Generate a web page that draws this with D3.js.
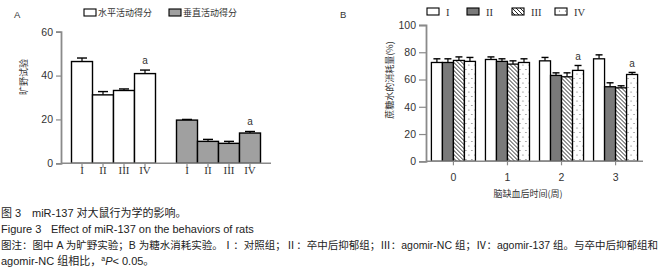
<!DOCTYPE html>
<html>
<head>
<meta charset="utf-8">
<script src="https://cdn.jsdelivr.net/npm/d3@7"></script>
<style>
  body { margin: 0; background: #fff; }
  svg text { font-family: "Liberation Sans", Arial, "Noto Sans CJK SC", sans-serif; }
</style>
</head>
<body>
<div class="canvas"></div>
<script>
// ---- data ----
const groupsA = ['水平活动得分', '垂直活动得分'];
const romans = ['I', 'II', 'III', 'IV'];
const horizMean = [46.4, 31.2, 33.2, 40.9];
const horizErr = [1.6, 1.5, 0.7, 1.6];
const vertMean = [19.7, 10.0, 9.1, 13.8];
const vertErr = [0.3, 0.9, 0.9, 0.7];
const sigA = [false, false, false, true];
const ticksA = [0, 20, 40, 60];

const weeks = ['0', '1', '2', '3'];
const bI = [72.5, 74.7, 73.7, 75.2];
const bIErr = [2.7, 1.9, 2.5, 2.9];
const bII = [72.5, 73.3, 63.0, 54.7];
const bIIErr = [2.7, 1.9, 1.9, 2.9];
const bIII = [74.0, 71.3, 62.0, 53.9];
const bIIIErr = [2.6, 2.4, 2.9, 1.5];
const bIV = [73.3, 72.5, 66.7, 63.7];
const bIVErr = [2.9, 2.7, 3.6, 1.5];
const sigB = [false, false, true, true];   // for group IV
const ticksB = [0, 20, 40, 60, 80, 100];

const axisColor = '#8a8a8a';

const svg = d3.select('.canvas')
    .append('svg')
    .attr('width', 662)
    .attr('height', 268);

// patterns
const defs = svg.append('defs');
defs.append('pattern')
    .attr('id', 'hatch')
    .attr('patternUnits', 'userSpaceOnUse')
    .attr('width', 4).attr('height', 4)
  .call(p => {
    p.append('rect').attr('width', 4).attr('height', 4).attr('fill', '#fff');
    p.append('path')
        .attr('d', 'M0,0 L4,4 M-1,3 L1,5 M3,-1 L5,1')
        .attr('stroke', '#111').attr('stroke-width', 0.9);
  });
defs.append('pattern')
    .attr('id', 'dots')
    .attr('patternUnits', 'userSpaceOnUse')
    .attr('width', 6).attr('height', 9)
  .call(p => {
    p.append('rect').attr('width', 6).attr('height', 9).attr('fill', '#fff');
    p.append('circle').attr('cx', 1.5).attr('cy', 2).attr('r', 0.6).attr('fill', '#555');
    p.append('circle').attr('cx', 4.5).attr('cy', 6.5).attr('r', 0.6).attr('fill', '#555');
  });

// ================= Panel A =================
const yA = d3.scaleLinear().domain([0, 60]).range([163.3, 31.7]);
const xOuterA = d3.scaleBand().domain(groupsA).range([61, 271])
    .paddingInner(0.2).paddingOuter(0.1);
const xInnerA = d3.scaleBand().domain(romans).range([0, xOuterA.bandwidth()]);

const gA = svg.append('g');

const seriesA = [
    {name: groupsA[0], mean: horizMean, err: horizErr, fill: '#fff'},
    {name: groupsA[1], mean: vertMean, err: vertErr, fill: '#a0a0a0'},
];

seriesA.forEach(s => {
    const g = gA.append('g').attr('transform', `translate(${xOuterA(s.name)},0)`);
    romans.forEach((r, i) => {
        const x = xInnerA(r), w = xInnerA.bandwidth(), cx = x + w / 2;
        const top = yA(s.mean[i] + s.err[i]);
        g.append('line')
            .attr('x1', cx).attr('x2', cx)
            .attr('y1', yA(s.mean[i])).attr('y2', top)
            .attr('stroke', '#000').attr('stroke-width', 1.2);
        g.append('line')
            .attr('x1', cx - 5).attr('x2', cx + 5)
            .attr('y1', top).attr('y2', top)
            .attr('stroke', '#000').attr('stroke-width', 1.4);
        g.append('rect')
            .attr('x', x).attr('y', yA(s.mean[i]))
            .attr('width', w).attr('height', yA(0) - yA(s.mean[i]))
            .attr('fill', s.fill).attr('stroke', '#000').attr('stroke-width', 1.4);
        if (sigA[i]) {
            g.append('text')
                .attr('x', cx).attr('y', top - 6)
                .attr('text-anchor', 'middle')
                .attr('font-size', 10).attr('fill', '#333')
                .text('a');
        }
        // x tick + roman label
        g.append('line')
            .attr('x1', cx).attr('x2', cx).attr('y1', yA(0)).attr('y2', yA(0) + 4)
            .attr('stroke', axisColor).attr('stroke-width', 1.2);
        g.append('text')
            .attr('x', cx).attr('y', 174)
            .attr('text-anchor', 'middle')
            .attr('font-size', 11)
            .style('font-family', '"Liberation Serif", "Times New Roman", serif')
            .attr('fill', '#333')
            .text(r);
    });
});

// axes A
gA.append('line')
    .attr('x1', 61).attr('x2', 271).attr('y1', yA(0)).attr('y2', yA(0))
    .attr('stroke', axisColor).attr('stroke-width', 1.6);
const yAxisA = gA.append('g')
    .attr('transform', 'translate(61,0)')
    .call(d3.axisLeft(yA).tickValues(ticksA).tickSize(5).tickPadding(3));
yAxisA.select('.domain').attr('stroke', axisColor).attr('stroke-width', 1.8);
yAxisA.selectAll('.tick line').attr('stroke', axisColor).attr('stroke-width', 1.2);
yAxisA.selectAll('text').attr('font-size', 10.5).attr('fill', '#333')
    .style('font-family', '"Liberation Sans", Arial, sans-serif');

gA.append('text')
    .attr('transform', 'translate(27,77) rotate(-90)')
    .attr('text-anchor', 'middle')
    .attr('font-size', 9).attr('fill', '#333')
    .style('font-family', '"Noto Sans CJK SC", sans-serif')
    .text('旷野试验');

gA.append('text').attr('x', 14).attr('y', 18)
    .attr('font-size', 9.5).attr('fill', '#333').text('A');

// legend A
const legendA = gA.append('g');
[{x: 84, fill: '#fff'}, {x: 169, fill: '#a0a0a0'}].forEach((l, i) => {
    legendA.append('rect')
        .attr('x', l.x).attr('y', 9).attr('width', 12).attr('height', 7)
        .attr('fill', l.fill).attr('stroke', '#000').attr('stroke-width', 1.1);
    legendA.append('text')
        .attr('x', l.x + 14).attr('y', 16)
        .attr('font-size', 9).attr('fill', '#333')
        .style('font-family', '"Noto Sans CJK SC", sans-serif')
        .text(groupsA[i]);
});

// ================= Panel B =================
const seriesB = [
    {name: 'I', mean: bI, err: bIErr, fill: '#fff'},
    {name: 'II', mean: bII, err: bIIErr, fill: '#7a7a7a'},
    {name: 'III', mean: bIII, err: bIIIErr, fill: 'url(#hatch)'},
    {name: 'IV', mean: bIV, err: bIVErr, fill: 'url(#dots)'},
];

const yB = d3.scaleLinear().domain([0, 100]).range([161.3, 25]);
const xOuterB = d3.scaleBand().domain(weeks).range([426, 643])
    .paddingInner(0.185).paddingOuter(0.1);
const xInnerB = d3.scaleBand().domain(seriesB.map(s => s.name))
    .range([0, xOuterB.bandwidth()]);

const gB = svg.append('g');

weeks.forEach((wk, j) => {
    const g = gB.append('g').attr('transform', `translate(${xOuterB(wk)},0)`);
    seriesB.forEach(s => {
        const x = xInnerB(s.name), w = xInnerB.bandwidth(), cx = x + w / 2;
        const top = yB(s.mean[j] + s.err[j]);
        g.append('line')
            .attr('x1', cx).attr('x2', cx)
            .attr('y1', yB(s.mean[j])).attr('y2', top)
            .attr('stroke', '#000').attr('stroke-width', 1.2);
        g.append('line')
            .attr('x1', cx - 3.5).attr('x2', cx + 3.5)
            .attr('y1', top).attr('y2', top)
            .attr('stroke', '#000').attr('stroke-width', 1.4);
        g.append('rect')
            .attr('x', x).attr('y', yB(s.mean[j]))
            .attr('width', w).attr('height', yB(0) - yB(s.mean[j]))
            .attr('fill', s.fill).attr('stroke', '#000').attr('stroke-width', 1.3);
        if (s.name === 'IV' && sigB[j]) {
            g.append('text')
                .attr('x', cx).attr('y', top - 5)
                .attr('text-anchor', 'middle')
                .attr('font-size', 10).attr('fill', '#333')
                .text('a');
        }
    });
});

// axes B
const xAxisB = gB.append('g')
    .attr('transform', `translate(0,${yB(0)})`)
    .call(d3.axisBottom(xOuterB).tickSize(4).tickPadding(8));
xAxisB.select('.domain').attr('stroke', axisColor).attr('stroke-width', 1.6)
    .attr('d', `M426,0H643`);
xAxisB.selectAll('.tick line').attr('stroke', axisColor).attr('stroke-width', 1.2);
xAxisB.selectAll('text').attr('font-size', 10.5).attr('fill', '#333');

const yAxisB = gB.append('g')
    .attr('transform', 'translate(426,0)')
    .call(d3.axisLeft(yB).tickValues(ticksB).tickSize(7).tickPadding(3));
yAxisB.select('.domain').attr('stroke', axisColor).attr('stroke-width', 1.8);
yAxisB.selectAll('.tick line').attr('stroke', axisColor).attr('stroke-width', 1.2);
yAxisB.selectAll('text').attr('font-size', 10.5).attr('fill', '#333');

gB.append('text')
    .attr('transform', 'translate(393,80) rotate(-90)')
    .attr('text-anchor', 'middle')
    .attr('font-size', 9).attr('fill', '#333')
    .style('font-family', '"Noto Sans CJK SC", sans-serif')
    .text('蔗糖水的消耗量(%)');

gB.append('text')
    .attr('x', 528).attr('y', 197)
    .attr('text-anchor', 'middle')
    .attr('font-size', 9).attr('fill', '#333')
    .style('font-family', '"Noto Sans CJK SC", sans-serif')
    .text('脑缺血后时间(周)');

gB.append('text').attr('x', 340).attr('y', 18)
    .attr('font-size', 9.5).attr('fill', '#333').text('B');

// legend B
const legendX = [427, 467, 512, 555];
seriesB.forEach((s, i) => {
    gB.append('rect')
        .attr('x', legendX[i]).attr('y', 8).attr('width', 12).attr('height', 7)
        .attr('fill', s.fill).attr('stroke', '#000').attr('stroke-width', 1.1);
    gB.append('text')
        .attr('x', legendX[i] + 19).attr('y', 15.5)
        .attr('font-size', 10.5).attr('fill', '#333')
        .style('font-family', '"Liberation Serif", "Times New Roman", serif')
        .text(s.name);
});

// ================= caption =================
const cap = svg.append('g')
    .attr('font-size', 11).attr('fill', '#222');

cap.append('text').attr('x', 1).attr('y', 217).text('图 3');
cap.append('text').attr('x', 32).attr('y', 217).text('miR-137 对大鼠行为学的影响。');
cap.append('text').attr('x', 1).attr('y', 233).text('Figure 3');
cap.append('text').attr('x', 51).attr('y', 233).text('Effect of miR-137 on the behaviors of rats');
cap.append('text').attr('x', 1).attr('y', 249)
    .attr('font-size', 10.3)
    .attr('textLength', 657).attr('lengthAdjust', 'spacingAndGlyphs')
    .text('图注：图中 A 为旷野实验；B 为糖水消耗实验。Ⅰ：对照组；Ⅱ：卒中后抑郁组；Ⅲ：agomir-NC 组；Ⅳ：agomir-137 组。与卒中后抑郁组和');
const l4 = cap.append('text').attr('x', 1).attr('y', 265);
l4.append('tspan').text('agomir-NC 组相比，');
l4.append('tspan').attr('font-size', 7).attr('dy', -4).text('a');
l4.append('tspan').attr('font-style', 'italic').attr('dy', 4).text('P');
l4.append('tspan').text('< 0.05。');
</script>
</body>
</html>
